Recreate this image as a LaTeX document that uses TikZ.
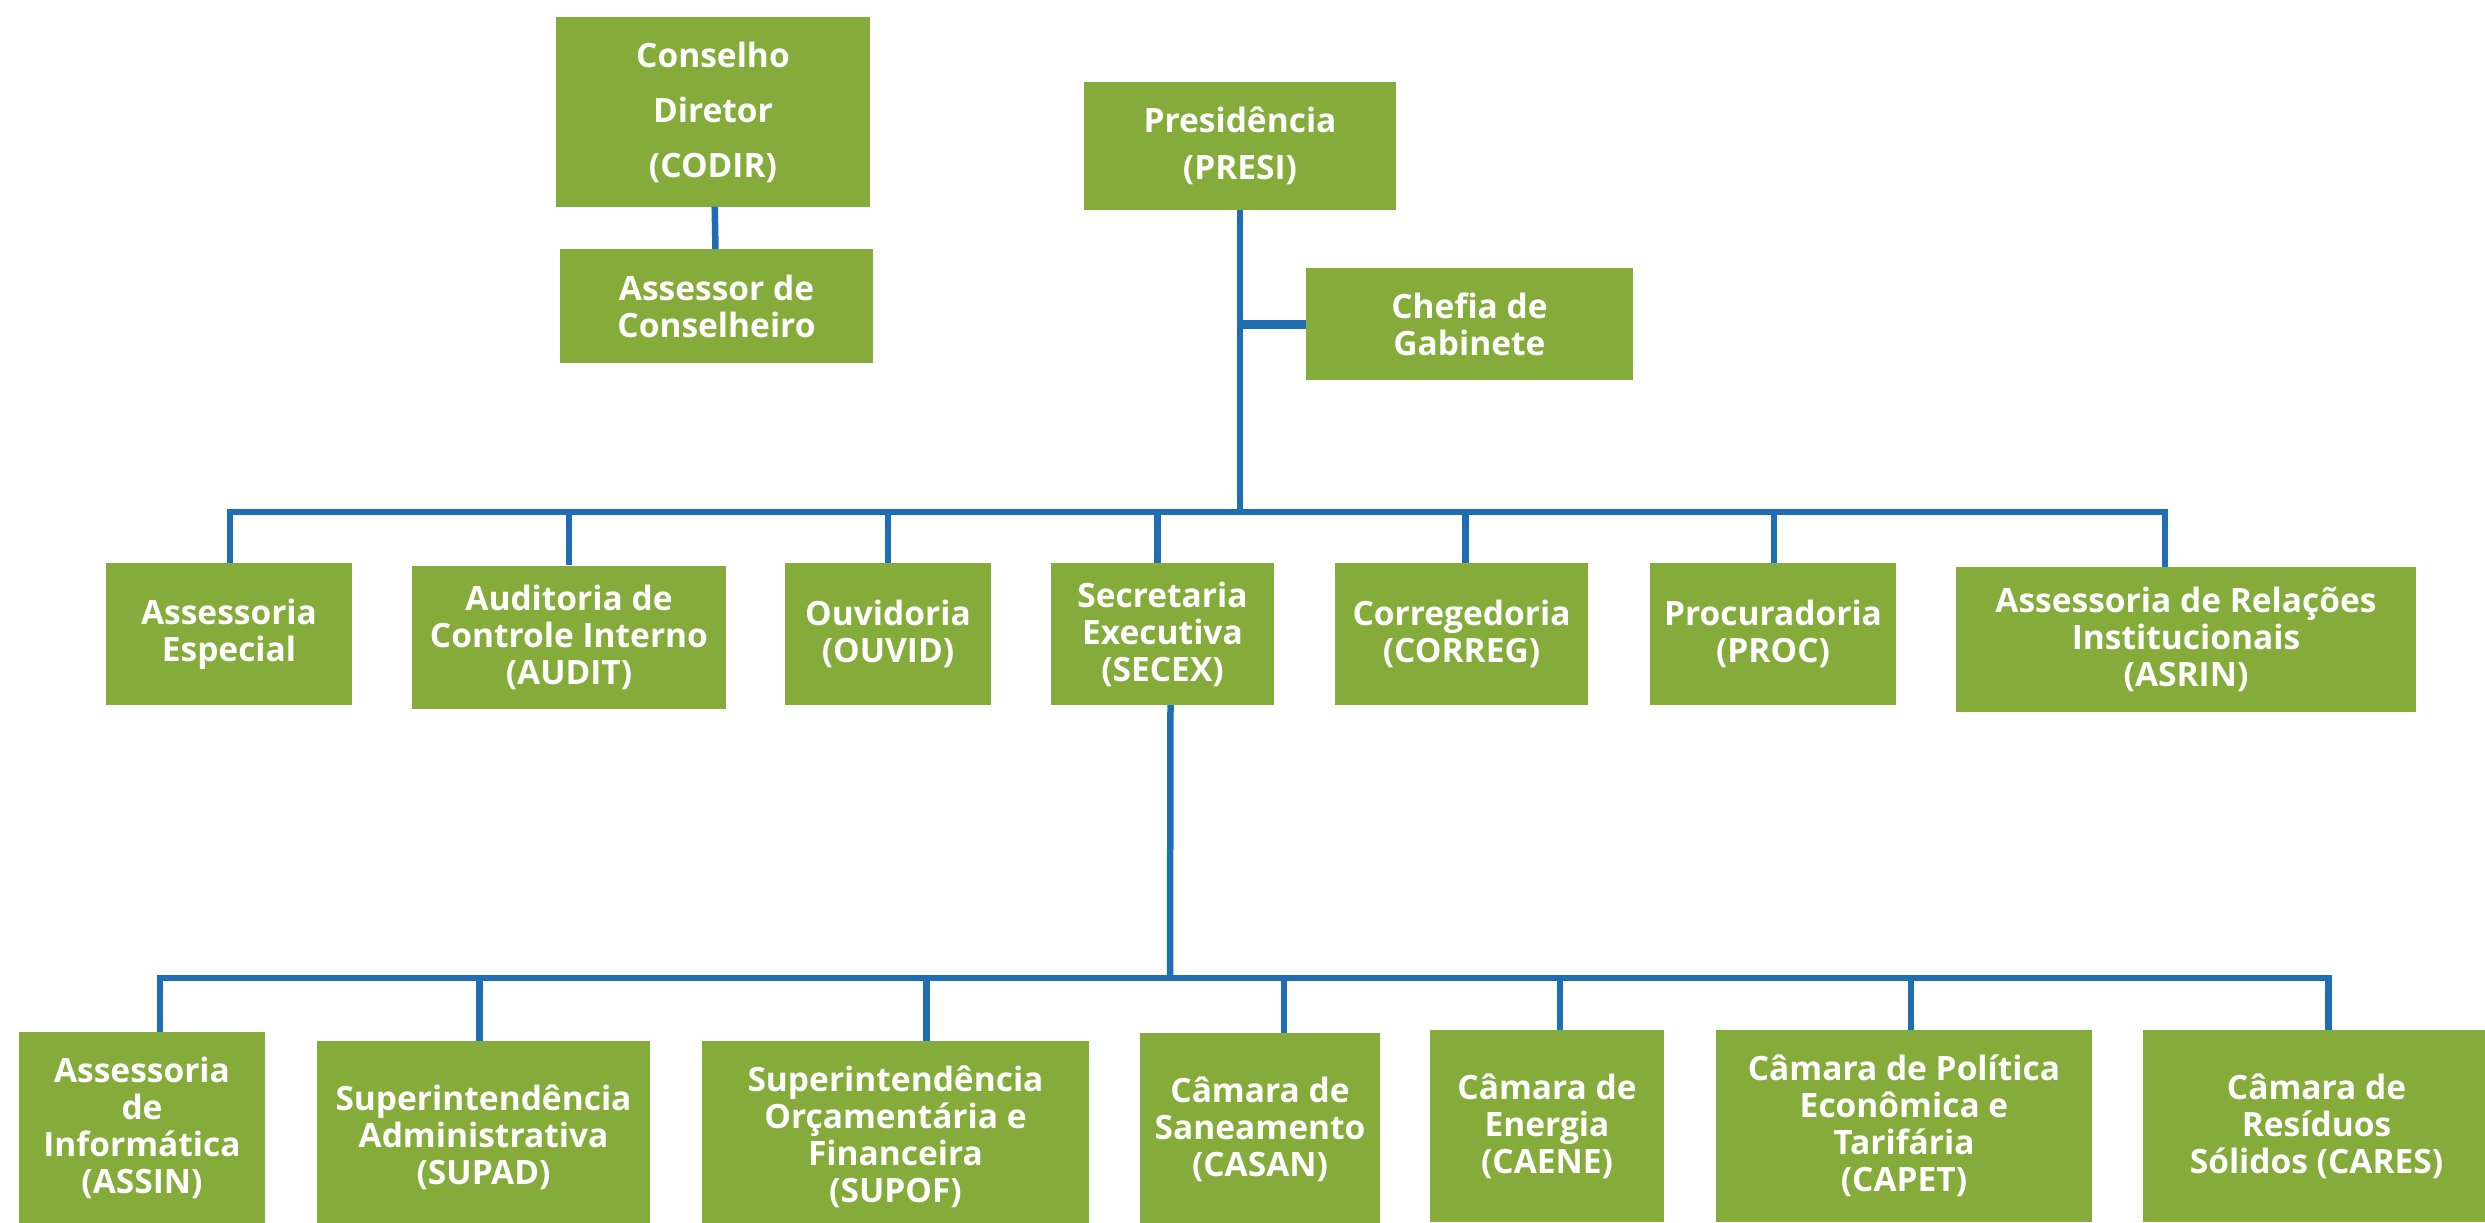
\documentclass[tikz,border=0pt]{standalone}
\usepackage{fontspec}
\setmainfont{Open Sans}
\usepackage{xcolor}
\usepackage{tikz}
\usetikzlibrary{positioning}
\definecolor{boxgreen}{HTML}{85AB3A}
\definecolor{lineblue}{HTML}{1F6EB4}
\tikzset{
    orgbox/.style = {rectangle, fill=boxgreen, text=white, align=center, inner sep=0pt, font=\bfseries\fontsize{33.5}{37}\selectfont},
    link/.style = {-, line width=6.5pt, draw=lineblue},
}
\begin{document}
\begin{tikzpicture}[x=1pt, y=-1pt]
\useasboundingbox (0,0) rectangle (2485,1223);
\clip (0,0) rectangle (2485,1223);
% top
\node[orgbox, minimum width=314pt, minimum height=189pt, font=\bfseries\fontsize{33.5}{55}\selectfont] at (713,112) (codir) {Conselho\\Diretor\\(CODIR)};
\node[orgbox, minimum width=313pt, minimum height=114pt] at (716.5,306) (assc) {Assessor de\\Conselheiro};
\node[orgbox, minimum width=312pt, minimum height=127pt, font=\bfseries\fontsize{33.5}{47}\selectfont] at (1240,146) (presi) {Presidência\\(PRESI)};
\node[orgbox, minimum width=327pt, minimum height=112pt] at (1469.5,324) (chefia) {Chefia de\\Gabinete};
% second row
\node[orgbox, minimum width=246pt, minimum height=142pt] at (229,634) (asesp) {Assessoria\\Especial};
\node[orgbox, minimum width=314pt, minimum height=143pt] at (569,637) (audit) {Auditoria de\\Controle Interno\\(AUDIT)};
\node[orgbox, minimum width=206pt, minimum height=142pt] at (888,634) (ouvid) {Ouvidoria\\(OUVID)};
\node[orgbox, minimum width=223pt, minimum height=142pt] at (1162.5,634) (secex) {Secretaria\\Executiva\\(SECEX)};
\node[orgbox, minimum width=253pt, minimum height=142pt] at (1461.5,634) (correg) {Corregedoria\\(CORREG)};
\node[orgbox, minimum width=246pt, minimum height=142pt] at (1773,634) (proc) {Procuradoria\\(PROC)};
\node[orgbox, minimum width=460pt, minimum height=145pt] at (2186,639.5) (asrin) {Assessoria de Relações\\Institucionais\\(ASRIN)};
% third row
\node[orgbox, minimum width=246pt, minimum height=192pt] at (142,1128) (assin) {Assessoria\\de\\Informática\\(ASSIN)};
\node[orgbox, minimum width=333pt, minimum height=192pt] at (483.5,1137) (supad) {Superintendência\\Administrativa\\(SUPAD)};
\node[orgbox, minimum width=387pt, minimum height=192pt] at (895.5,1137) (supof) {Superintendência\\Orçamentária e\\Financeira\\(SUPOF)};
\node[orgbox, minimum width=240pt, minimum height=192pt] at (1260,1129) (casan) {Câmara de\\Saneamento\\(CASAN)};
\node[orgbox, minimum width=234pt, minimum height=192pt] at (1547,1126) (caene) {Câmara de\\Energia\\(CAENE)};
\node[orgbox, minimum width=376pt, minimum height=192pt] at (1904,1126) (capet) {Câmara de Política\\Econômica e\\Tarifária\\(CAPET)};
\node[orgbox, minimum width=347pt, minimum height=192pt] at (2316.5,1126) (cares) {Câmara de\\Resíduos\\Sólidos (CARES)};
%
\coordinate (bus1) at (1240,512);
\coordinate (bus2) at (1170,978);
\draw[link] (codir) -- (assc);
\draw[link] (presi) -- (bus1);
\draw[link, line width=9pt] (presi.south |- chefia.west) -- (chefia.west);
\foreach \n/\d in {asesp/1, audit/0, ouvid/0, secex/-5, correg/4, proc/1, asrin/-21}
    \draw[link] (bus1) -| ([xshift=\d pt]\n.north);
%
\draw[link] ([xshift=8pt]secex.south) -- (bus2);
\foreach \n/\d in {assin/18, supad/-4, supof/31, casan/24, caene/13, capet/7, cares/12}
    \draw[link] (bus2) -| ([xshift=\d pt]\n.north);
\end{tikzpicture}
\end{document}
